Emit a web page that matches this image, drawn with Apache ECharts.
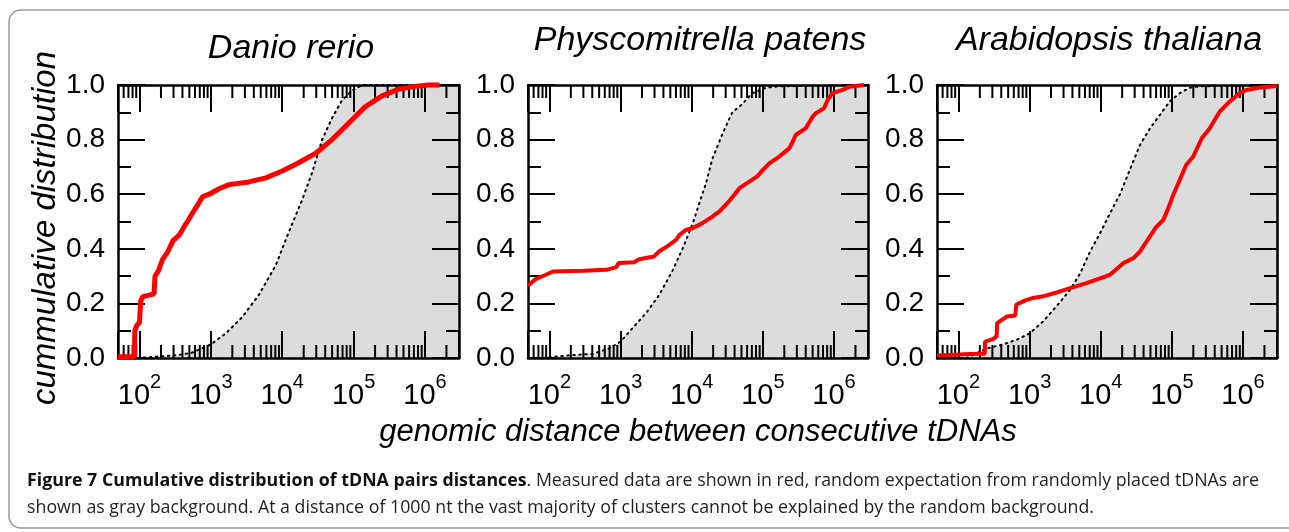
<!DOCTYPE html>
<html>
<head>
<meta charset="utf-8">
<title>Figure 7</title>
<script src="https://cdn.jsdelivr.net/npm/echarts@6/dist/echarts.min.js"></script>
<style>
html, body { margin: 0; padding: 0; background: #fff; }
#main { width: 1289px; height: 532px; }
</style>
</head>
<body>
<div id="main"></div>
<script>
var panelTitles = ['Danio rerio', 'Physcomitrella patens', 'Arabidopsis thaliana'];

// measured tDNA pair distances (nt) and cumulative fraction
var danioDist = [50, 85, 86, 92, 100, 104, 112, 160, 165, 185, 210, 250, 295, 360, 420, 470, 550, 650, 760, 950,
  1300, 1800, 3400, 5900, 10000, 17000, 29500, 50000, 85000, 145000, 250000, 430000, 720000, 1100000, 1600000];
var danioCdf = [0.005, 0.005, 0.10, 0.12, 0.13, 0.21, 0.225, 0.235, 0.30, 0.32, 0.36, 0.39, 0.43, 0.45, 0.48, 0.50, 0.53, 0.56, 0.59, 0.60,
  0.62, 0.635, 0.645, 0.66, 0.685, 0.715, 0.75, 0.80, 0.86, 0.92, 0.96, 0.985, 0.995, 1.0, 1.0];

var physcoDist = [50, 65, 89, 112, 300, 631, 871, 940, 1549, 1820, 2951, 3467, 4571, 6026, 6683, 8318, 10233, 14125, 19498, 24547,
  31623, 39811, 46774, 64565, 83176, 100000, 123027, 169824, 234423, 263027, 288403, 398107, 501187, 549541, 724436, 812831,
  954993, 1318257, 1621810, 2630268];
var physcoCdf = [0.265, 0.29, 0.305, 0.317, 0.32, 0.323, 0.333, 0.348, 0.351, 0.362, 0.372, 0.39, 0.41, 0.433, 0.45, 0.47, 0.475, 0.494, 0.518, 0.537,
  0.567, 0.598, 0.622, 0.646, 0.665, 0.689, 0.713, 0.738, 0.768, 0.793, 0.817, 0.841, 0.884, 0.896, 0.915, 0.945,
  0.970, 0.982, 0.994, 1.0];

var arabiDist = [50, 145, 234, 237, 310, 345, 350, 479, 631, 650, 871, 1122, 1549, 2399, 3715, 6310, 10965, 13490, 20893, 28840,
  35481, 48978, 60256, 75858, 89125, 104713, 128825, 158489, 199526, 263027, 338844, 467735, 645654, 891251, 1122018, 1698244, 3000000];
var arabiCdf = [0.009, 0.015, 0.016, 0.06, 0.07, 0.08, 0.128, 0.152, 0.156, 0.195, 0.211, 0.22, 0.226, 0.24, 0.256, 0.274, 0.296, 0.305, 0.348, 0.366,
  0.39, 0.445, 0.48, 0.506, 0.549, 0.598, 0.652, 0.707, 0.738, 0.805, 0.841, 0.902, 0.939, 0.97, 0.982, 0.991, 0.996];

// random expectation (gray background, dotted edge)
var danioRandDist = [95, 324, 550, 1000, 1622, 2754, 4677, 8128, 12303, 19055, 26303, 36308, 50119, 69183, 95499, 131826, 3000000];
var danioRandCdf = [0, 0.01, 0.02, 0.05, 0.09, 0.15, 0.23, 0.34, 0.46, 0.58, 0.68, 0.80, 0.88, 0.945, 0.98, 1.0, 1.0];

var physcoRandDist = [100, 191, 407, 692, 1000, 1479, 2291, 3467, 5370, 7413, 10233, 12882, 15849, 19498, 26915, 37154, 51286, 70795, 109648, 169824, 3000000];
var physcoRandCdf = [0.003, 0.01, 0.015, 0.035, 0.06, 0.11, 0.165, 0.23, 0.32, 0.40, 0.49, 0.57, 0.64, 0.73, 0.82, 0.90, 0.93, 0.97, 0.99, 0.995, 1.0];

var arabiRandDist = [130, 250, 427, 661, 1000, 1549, 2399, 3715, 5129, 7079, 9772, 13490, 18621, 25704, 35481, 48978, 67608, 93325, 128825, 177828, 245471, 3000000];
var arabiRandCdf = [0, 0.035, 0.05, 0.067, 0.09, 0.134, 0.19, 0.25, 0.31, 0.39, 0.457, 0.53, 0.60, 0.69, 0.78, 0.84, 0.89, 0.94, 0.97, 0.99, 0.995, 1.0];

// log minor tick positions (2..9 x 10^n)
var minorTicks = [60, 70, 80, 90, 200, 300, 400, 500, 600, 700, 800, 900,
  2000, 3000, 4000, 5000, 6000, 7000, 8000, 9000, 20000, 30000, 40000, 50000, 60000, 70000, 80000, 90000,
  200000, 300000, 400000, 500000, 600000, 700000, 800000, 900000, 2000000];

var xMin = 50, xMax = 3000000;
var FONT = '"Liberation Sans", Arial, Helvetica, sans-serif';
var CAPTION_FONT = '"Open Sans", sans-serif';

var measured = [[danioDist, danioCdf], [physcoDist, physcoCdf], [arabiDist, arabiCdf]];
var random = [[danioRandDist, danioRandCdf], [physcoRandDist, physcoRandCdf], [arabiRandDist, arabiRandCdf]];

function zip(xs, ys) {
  return xs.map(function (x, k) { return [x, ys[k]]; });
}

var chart = echarts.init(document.getElementById('main'), null, { renderer: 'canvas' });

var grids = [], xAxes = [], yAxes = [], series = [];
var lefts = [118, 528, 937];
var widths = [341, 340, 340];
var tickStyle = { color: '#000', width: 2 };
var lineStyle = { color: '#000', width: 2.5 };

function xAxis(i, top) {
  return {
    type: 'log', logBase: 10, gridIndex: i, min: xMin, max: xMax,
    position: top ? 'top' : 'bottom', z: 3,
    axisLine: { show: true, onZero: false, lineStyle: lineStyle },
    axisTick: { show: true, inside: true, length: 27, lineStyle: tickStyle },
    splitLine: { show: false },
    axisLabel: top ? { show: false } : {
      margin: 14,
      formatter: function (v) {
        var e = Math.log10(v);
        if (Math.abs(e - Math.round(e)) > 1e-6) return '';
        return '{n|10}{s|' + Math.round(e) + '}';
      },
      rich: {
        n: { fontSize: 29, fontFamily: FONT, color: '#000', lineHeight: 38, verticalAlign: 'bottom' },
        s: { fontSize: 20, fontFamily: FONT, color: '#000', lineHeight: 38, verticalAlign: 'top' }
      }
    }
  };
}

function yAxis(i, right) {
  return {
    type: 'value', gridIndex: i, min: 0, max: 1, interval: 0.2,
    position: right ? 'right' : 'left', z: 3,
    axisLine: { show: true, onZero: false, lineStyle: lineStyle },
    axisTick: { show: true, inside: true, length: 27, lineStyle: tickStyle },
    minorTick: { show: true, splitNumber: 2, length: 13, lineStyle: tickStyle },
    splitLine: { show: false },
    axisLabel: right ? { show: false } : {
      margin: 13, fontSize: 28, fontFamily: FONT, color: '#000',
      formatter: function (v) { return v.toFixed(1); }
    }
  };
}

for (var i = 0; i < 3; i++) {
  grids.push({ left: lefts[i], top: 85, width: widths[i], height: 273 });
}
for (i = 0; i < 3; i++) xAxes.push(xAxis(i, false));
for (i = 0; i < 3; i++) xAxes.push(xAxis(i, true));
for (i = 0; i < 3; i++) yAxes.push(yAxis(i, false));
for (i = 0; i < 3; i++) yAxes.push(yAxis(i, true));

xAxes[1].name = 'genomic distance between consecutive tDNAs';
xAxes[1].nameLocation = 'middle';
xAxes[1].nameGap = 59;
xAxes[1].nameTextStyle = { fontSize: 31, fontStyle: 'italic', fontFamily: FONT, color: '#000' };

for (i = 0; i < 3; i++) {
  series.push({
    type: 'line', xAxisIndex: i, yAxisIndex: i, z: 1, silent: true,
    data: zip(random[i][0], random[i][1]),
    symbol: 'none',
    lineStyle: { color: '#000', width: 2, type: [1.5, 4.5], cap: 'round' },
    areaStyle: { color: '#dcdcdc', opacity: 1 }
  });
  series.push({
    type: 'custom', xAxisIndex: i, yAxisIndex: i, z: 3, silent: true,
    data: minorTicks.map(function (v) { return [v, 0]; }),
    renderItem: function (params, api) {
      var b = api.coord([api.value(0), 0]);
      var t = api.coord([api.value(0), 1]);
      return {
        type: 'group',
        children: [
          { type: 'line', shape: { x1: b[0], y1: b[1], x2: b[0], y2: b[1] - 13 }, style: { stroke: '#000', lineWidth: 2 } },
          { type: 'line', shape: { x1: t[0], y1: t[1], x2: t[0], y2: t[1] + 13 }, style: { stroke: '#000', lineWidth: 2 } }
        ]
      };
    }
  });
  series.push({
    type: 'line', xAxisIndex: i, yAxisIndex: i, z: 5, silent: true, clip: false,
    data: zip(measured[i][0], measured[i][1]),
    symbol: 'none',
    lineStyle: { color: '#ff0000', width: i === 0 ? 5 : 4 }
  });
}

var titleCenters = [291, 700, 1109];
var titleTops = [32, 24, 24];

var option = {
  animation: false,
  backgroundColor: '#fff',
  title: panelTitles.map(function (t, k) {
    return {
      text: t, left: titleCenters[k], top: titleTops[k], textAlign: 'center', padding: 0,
      textStyle: { fontSize: 34, fontStyle: 'italic', fontWeight: 'normal', fontFamily: FONT, color: '#000' }
    };
  }),
  grid: grids,
  xAxis: xAxes,
  yAxis: yAxes,
  series: series,
  graphic: [
    {
      type: 'rect', silent: true, z: -1,
      shape: { x: 9, y: 10, width: 1320, height: 518, r: 12 },
      style: { fill: 'none', stroke: '#9a9a9a', lineWidth: 1.5 }
    },
    {
      type: 'text', x: 46, y: 228, rotation: Math.PI / 2, silent: true,
      style: {
        text: 'cummulative distribution', align: 'center', verticalAlign: 'middle',
        fontSize: 33, fontStyle: 'italic', fontFamily: FONT, fill: '#000'
      }
    },
    {
      type: 'text', x: 27, y: 481, silent: true,
      style: {
        text: '{b|Figure 7 Cumulative distribution of tDNA pairs distances}. Measured data are shown in red, random expectation from randomly placed tDNAs are',
        fontSize: 17.8, fontFamily: CAPTION_FONT, fill: '#231f20', verticalAlign: 'middle',
        rich: { b: { fontSize: 17.8, fontFamily: CAPTION_FONT, fontWeight: 'bold', fill: '#111' } }
      }
    },
    {
      type: 'text', x: 27, y: 508, silent: true,
      style: {
        text: 'shown as gray background. At a distance of 1000 nt the vast majority of clusters cannot be explained by the random background.',
        fontSize: 17.8, fontFamily: CAPTION_FONT, fill: '#231f20', verticalAlign: 'middle'
      }
    }
  ]
};

chart.setOption(option);
</script>
</body>
</html>
